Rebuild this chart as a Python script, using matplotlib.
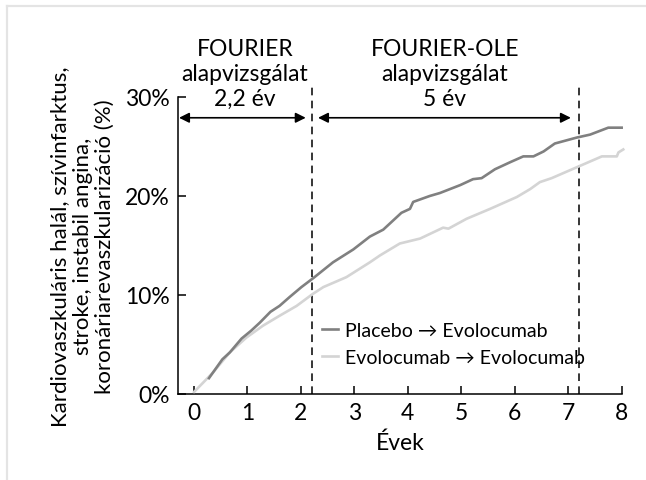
import matplotlib
matplotlib.use("Agg")
from matplotlib import pyplot as plt
import matplotlib.lines as mlines

plt.rcParams['font.family'] = ['Lato', 'DejaVu Sans']

# Placebo -> Evolocumab
placebo_x = [0.28, 0.53, 0.67, 0.89, 1.07, 1.23, 1.43, 1.6, 1.79, 2.01, 2.23, 2.6, 2.98,
             3.29, 3.54, 3.88, 4.04, 4.1, 4.41, 4.6, 4.98, 5.22, 5.38, 5.63, 5.91, 6.16,
             6.35, 6.54, 6.75, 7.16, 7.41, 7.75, 8.0]
placebo_y = [1.6, 3.5, 4.2, 5.6, 6.4, 7.2, 8.3, 8.9, 9.8, 10.8, 11.7, 13.3, 14.6,
             15.9, 16.6, 18.3, 18.7, 19.4, 20.0, 20.3, 21.1, 21.7, 21.8, 22.7, 23.4, 24.0,
             24.0, 24.5, 25.3, 25.9, 26.2, 26.9, 26.9]

# Evolocumab -> Evolocumab
evolo_x = [0.0, 0.36, 0.67, 0.98, 1.29, 1.6, 1.92, 2.22, 2.42, 2.85, 3.29, 3.48, 3.85,
           4.23, 4.66, 4.76, 5.1, 5.54, 6.04, 6.29, 6.47, 6.69, 7.16, 7.63, 7.78, 7.91,
           7.94, 8.03]
evolo_y = [0.2, 2.2, 4.2, 5.7, 6.9, 7.9, 8.9, 10.1, 10.8, 11.8, 13.3, 14.0, 15.2,
           15.7, 16.8, 16.7, 17.7, 18.7, 19.9, 20.7, 21.4, 21.8, 22.9, 24.0, 24.0, 24.0,
           24.4, 24.7]

x_ticks = [0, 1, 2, 3, 4, 5, 6, 7, 8]
y_ticks = [0, 10, 20, 30]
y_labels = ["0%", "10%", "20%", "30%"]

phase_bounds = [2.2, 7.2]
phase_texts = ["FOURIER\nalapvizsgálat\n2,2 év", "FOURIER-OLE\nalapvizsgálat\n5 év"]
phase_centers = [0.95, 4.69]

fig = plt.figure(figsize=(6.46, 4.81), dpi=100)
ax = fig.add_axes([0.2755, 0.1788, 0.6868, 0.6175])

# light frame around the figure
fig.add_artist(mlines.Line2D([7 / 646, 7 / 646], [0, 1 - 7 / 481], transform=fig.transFigure,
                             color="#e4e4e4", lw=1.6))
fig.add_artist(mlines.Line2D([7 / 646, 645 / 646], [1 - 7 / 481, 1 - 7 / 481],
                             transform=fig.transFigure, color="#e4e4e4", lw=1.6))

ax.plot(evolo_x, evolo_y, color="#d4d4d4", lw=1.9, clip_on=False,
        label="Evolocumab → Evolocumab", zorder=3)
ax.plot(placebo_x, placebo_y, color="#808080", lw=1.9, clip_on=False,
        label="Placebo → Evolocumab", zorder=4)

for xb in phase_bounds:
    ax.plot([xb, xb], [0, 31.2], color="black", lw=1.1, ls=(0, (5, 3.5)), clip_on=False)

arrow_kw = dict(arrowstyle="<|-|>", mutation_scale=15, lw=1.2, color="black",
                shrinkA=0, shrinkB=0)
ax.annotate("", xy=(2.09, 27.9), xytext=(-0.28, 27.9), arrowprops=arrow_kw,
            annotation_clip=False)
ax.annotate("", xy=(7.05, 27.9), xytext=(2.32, 27.9), arrowprops=arrow_kw,
            annotation_clip=False)

for cx, txt in zip(phase_centers, phase_texts):
    ax.text(cx, 29.2, txt, ha="center", va="baseline", fontsize=16.5, linespacing=1.22,
            clip_on=False)

ax.set_xlim(-0.3, 8.0)
ax.set_ylim(0, 30)
ax.set_xticks(x_ticks)
ax.set_yticks(y_ticks)
ax.set_yticklabels(y_labels)
ax.tick_params(direction="in", length=6, width=1.1, labelsize=16.5, pad=6)
for side in ["top", "right"]:
    ax.spines[side].set_visible(False)
for side in ["left", "bottom"]:
    ax.spines[side].set_linewidth(1.1)

ax.set_xlabel("Évek", fontsize=16.5, labelpad=6)
ax.set_ylabel("Kardiovaszkuláris halál, szívinfarktus,\nstroke, instabil angina,\n"
              "koronáriarevaszkularizáció (%)", fontsize=16, linespacing=1.15, labelpad=7)

handles, labels = ax.get_legend_handles_labels()
ax.legend(handles[::-1], labels[::-1], loc="upper left", bbox_to_anchor=(0.325, 0.243),
          frameon=False, fontsize=14, handlelength=0.8, handletextpad=0.4,
          labelspacing=0.5, borderpad=0, borderaxespad=0)

plt.savefig("out.png", dpi=100)
